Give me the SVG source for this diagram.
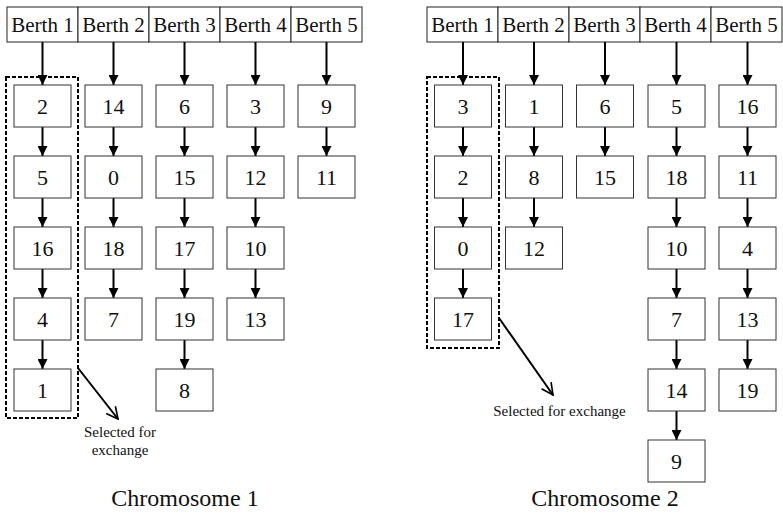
<svg xmlns="http://www.w3.org/2000/svg" width="783" height="515" viewBox="0 0 783 515">
  <style>
    .hdr { fill: #fff; stroke: #222; stroke-width: 1; }
    .box { fill: #fff; stroke: #333; stroke-width: 1; }
    .sel { fill: none; stroke: #000; stroke-width: 2; stroke-dasharray: 4 2; }
    .lnk { stroke: #000; stroke-width: 2; fill: none; }
    .ptr { stroke: #000; stroke-width: 2; fill: none; }
    text { font-family: "Liberation Serif", "Times New Roman", serif; fill: #111; text-anchor: middle; }
    .ht { font-size: 21px; }
    .nt { font-size: 22px; }
    .lt { font-size: 15px; }
    .tt { font-size: 24px; }
  </style>
  <defs>
    <marker id="tri" viewBox="0 0 10 10" refX="10" refY="5" markerWidth="5" markerHeight="5" orient="auto" markerUnits="strokeWidth">
      <path d="M0,0 L10,5 L0,10 Z" fill="#000"/>
    </marker>
    <marker id="vee" viewBox="0 0 12 12" refX="11" refY="6" markerWidth="7" markerHeight="7" orient="auto" markerUnits="strokeWidth">
      <path d="M1,1 L11,6 L1,11" fill="none" stroke="#000" stroke-width="1.4"/>
    </marker>
  </defs>

  <!-- Chromosome 1 -->
  <g id="chromosome1">
    <g id="c1-headers">
      <rect class="hdr" x="7" y="7" width="71" height="35"/>
      <rect class="hdr" x="78" y="7" width="71" height="35"/>
      <rect class="hdr" x="149" y="7" width="71" height="35"/>
      <rect class="hdr" x="220" y="7" width="71" height="35"/>
      <rect class="hdr" x="291" y="7" width="71" height="35"/>
      <text class="ht" x="42.5" y="32">Berth 1</text>
      <text class="ht" x="113.5" y="32">Berth 2</text>
      <text class="ht" x="184.5" y="32">Berth 3</text>
      <text class="ht" x="255.5" y="32">Berth 4</text>
      <text class="ht" x="326.5" y="32">Berth 5</text>
    </g>

    <g id="c1-links">
      <!-- berth 1 -->
      <line class="lnk" x1="42.5" y1="42" x2="42.5" y2="85" marker-end="url(#tri)"/>
      <line class="lnk" x1="42.5" y1="127" x2="42.5" y2="156" marker-end="url(#tri)"/>
      <line class="lnk" x1="42.5" y1="198" x2="42.5" y2="227" marker-end="url(#tri)"/>
      <line class="lnk" x1="42.5" y1="269" x2="42.5" y2="298" marker-end="url(#tri)"/>
      <line class="lnk" x1="42.5" y1="340" x2="42.5" y2="369" marker-end="url(#tri)"/>
      <!-- berth 2 -->
      <line class="lnk" x1="113.5" y1="42" x2="113.5" y2="85" marker-end="url(#tri)"/>
      <line class="lnk" x1="113.5" y1="127" x2="113.5" y2="156" marker-end="url(#tri)"/>
      <line class="lnk" x1="113.5" y1="198" x2="113.5" y2="227" marker-end="url(#tri)"/>
      <line class="lnk" x1="113.5" y1="269" x2="113.5" y2="298" marker-end="url(#tri)"/>
      <!-- berth 3 -->
      <line class="lnk" x1="184.5" y1="42" x2="184.5" y2="85" marker-end="url(#tri)"/>
      <line class="lnk" x1="184.5" y1="127" x2="184.5" y2="156" marker-end="url(#tri)"/>
      <line class="lnk" x1="184.5" y1="198" x2="184.5" y2="227" marker-end="url(#tri)"/>
      <line class="lnk" x1="184.5" y1="269" x2="184.5" y2="298" marker-end="url(#tri)"/>
      <line class="lnk" x1="184.5" y1="340" x2="184.5" y2="369" marker-end="url(#tri)"/>
      <!-- berth 4 -->
      <line class="lnk" x1="255.5" y1="42" x2="255.5" y2="85" marker-end="url(#tri)"/>
      <line class="lnk" x1="255.5" y1="127" x2="255.5" y2="156" marker-end="url(#tri)"/>
      <line class="lnk" x1="255.5" y1="198" x2="255.5" y2="227" marker-end="url(#tri)"/>
      <line class="lnk" x1="255.5" y1="269" x2="255.5" y2="298" marker-end="url(#tri)"/>
      <!-- berth 5 -->
      <line class="lnk" x1="326.5" y1="42" x2="326.5" y2="85" marker-end="url(#tri)"/>
      <line class="lnk" x1="326.5" y1="127" x2="326.5" y2="156" marker-end="url(#tri)"/>
    </g>

    <g id="c1-b1">
      <rect class="box" x="14" y="85" width="57" height="42"/><text class="nt" x="42.5" y="113.5">2</text>
      <rect class="box" x="14" y="156" width="57" height="42"/><text class="nt" x="42.5" y="184.5">5</text>
      <rect class="box" x="14" y="227" width="57" height="42"/><text class="nt" x="42.5" y="255.5">16</text>
      <rect class="box" x="14" y="298" width="57" height="42"/><text class="nt" x="42.5" y="326.5">4</text>
      <rect class="box" x="14" y="369" width="57" height="42"/><text class="nt" x="42.5" y="397.5">1</text>
    </g>
    <g id="c1-b2">
      <rect class="box" x="85" y="85" width="57" height="42"/><text class="nt" x="113.5" y="113.5">14</text>
      <rect class="box" x="85" y="156" width="57" height="42"/><text class="nt" x="113.5" y="184.5">0</text>
      <rect class="box" x="85" y="227" width="57" height="42"/><text class="nt" x="113.5" y="255.5">18</text>
      <rect class="box" x="85" y="298" width="57" height="42"/><text class="nt" x="113.5" y="326.5">7</text>
    </g>
    <g id="c1-b3">
      <rect class="box" x="156" y="85" width="57" height="42"/><text class="nt" x="184.5" y="113.5">6</text>
      <rect class="box" x="156" y="156" width="57" height="42"/><text class="nt" x="184.5" y="184.5">15</text>
      <rect class="box" x="156" y="227" width="57" height="42"/><text class="nt" x="184.5" y="255.5">17</text>
      <rect class="box" x="156" y="298" width="57" height="42"/><text class="nt" x="184.5" y="326.5">19</text>
      <rect class="box" x="156" y="369" width="57" height="42"/><text class="nt" x="184.5" y="397.5">8</text>
    </g>
    <g id="c1-b4">
      <rect class="box" x="227" y="85" width="57" height="42"/><text class="nt" x="255.5" y="113.5">3</text>
      <rect class="box" x="227" y="156" width="57" height="42"/><text class="nt" x="255.5" y="184.5">12</text>
      <rect class="box" x="227" y="227" width="57" height="42"/><text class="nt" x="255.5" y="255.5">10</text>
      <rect class="box" x="227" y="298" width="57" height="42"/><text class="nt" x="255.5" y="326.5">13</text>
    </g>
    <g id="c1-b5">
      <rect class="box" x="298" y="85" width="57" height="42"/><text class="nt" x="326.5" y="113.5">9</text>
      <rect class="box" x="298" y="156" width="57" height="42"/><text class="nt" x="326.5" y="184.5">11</text>
    </g>

    <g id="c1-selection">
      <rect class="sel" x="6" y="77" width="72" height="341"/>
      <line class="ptr" x1="78" y1="368" x2="118" y2="419" marker-end="url(#vee)"/>
      <text class="lt" x="120" y="437">Selected for</text>
      <text class="lt" x="120" y="455">exchange</text>
    </g>

    <text class="tt" x="185" y="506">Chromosome 1</text>
  </g>

  <!-- Chromosome 2 -->
  <g id="chromosome2">
    <g id="c2-headers">
      <rect class="hdr" x="427" y="7" width="71" height="35"/>
      <rect class="hdr" x="498" y="7" width="71" height="35"/>
      <rect class="hdr" x="569" y="7" width="71" height="35"/>
      <rect class="hdr" x="640" y="7" width="71" height="35"/>
      <rect class="hdr" x="711" y="7" width="71" height="35"/>
      <text class="ht" x="462.5" y="32">Berth 1</text>
      <text class="ht" x="533.5" y="32">Berth 2</text>
      <text class="ht" x="604.5" y="32">Berth 3</text>
      <text class="ht" x="675.5" y="32">Berth 4</text>
      <text class="ht" x="746.5" y="32">Berth 5</text>
    </g>

    <g id="c2-links">
      <!-- berth 1 -->
      <line class="lnk" x1="463" y1="42" x2="463" y2="85" marker-end="url(#tri)"/>
      <line class="lnk" x1="463" y1="127" x2="463" y2="156" marker-end="url(#tri)"/>
      <line class="lnk" x1="463" y1="198" x2="463" y2="227" marker-end="url(#tri)"/>
      <line class="lnk" x1="463" y1="269" x2="463" y2="298" marker-end="url(#tri)"/>
      <!-- berth 2 -->
      <line class="lnk" x1="534" y1="42" x2="534" y2="85" marker-end="url(#tri)"/>
      <line class="lnk" x1="534" y1="127" x2="534" y2="156" marker-end="url(#tri)"/>
      <line class="lnk" x1="534" y1="198" x2="534" y2="227" marker-end="url(#tri)"/>
      <!-- berth 3 -->
      <line class="lnk" x1="605" y1="42" x2="605" y2="85" marker-end="url(#tri)"/>
      <line class="lnk" x1="605" y1="127" x2="605" y2="156" marker-end="url(#tri)"/>
      <!-- berth 4 -->
      <line class="lnk" x1="676.5" y1="42" x2="676.5" y2="85" marker-end="url(#tri)"/>
      <line class="lnk" x1="676.5" y1="127" x2="676.5" y2="156" marker-end="url(#tri)"/>
      <line class="lnk" x1="676.5" y1="198" x2="676.5" y2="227" marker-end="url(#tri)"/>
      <line class="lnk" x1="676.5" y1="269" x2="676.5" y2="298" marker-end="url(#tri)"/>
      <line class="lnk" x1="676.5" y1="340" x2="676.5" y2="369" marker-end="url(#tri)"/>
      <line class="lnk" x1="676.5" y1="411" x2="676.5" y2="440" marker-end="url(#tri)"/>
      <!-- berth 5 -->
      <line class="lnk" x1="747.5" y1="42" x2="747.5" y2="85" marker-end="url(#tri)"/>
      <line class="lnk" x1="747.5" y1="127" x2="747.5" y2="156" marker-end="url(#tri)"/>
      <line class="lnk" x1="747.5" y1="198" x2="747.5" y2="227" marker-end="url(#tri)"/>
      <line class="lnk" x1="747.5" y1="269" x2="747.5" y2="298" marker-end="url(#tri)"/>
      <line class="lnk" x1="747.5" y1="340" x2="747.5" y2="369" marker-end="url(#tri)"/>
    </g>

    <g id="c2-b1">
      <rect class="box" x="434.5" y="85" width="57" height="42"/><text class="nt" x="463" y="113.5">3</text>
      <rect class="box" x="434.5" y="156" width="57" height="42"/><text class="nt" x="463" y="184.5">2</text>
      <rect class="box" x="434.5" y="227" width="57" height="42"/><text class="nt" x="463" y="255.5">0</text>
      <rect class="box" x="434.5" y="298" width="57" height="42"/><text class="nt" x="463" y="326.5">17</text>
    </g>
    <g id="c2-b2">
      <rect class="box" x="505.5" y="85" width="57" height="42"/><text class="nt" x="534" y="113.5">1</text>
      <rect class="box" x="505.5" y="156" width="57" height="42"/><text class="nt" x="534" y="184.5">8</text>
      <rect class="box" x="505.5" y="227" width="57" height="42"/><text class="nt" x="534" y="255.5">12</text>
    </g>
    <g id="c2-b3">
      <rect class="box" x="576.5" y="85" width="57" height="42"/><text class="nt" x="605" y="113.5">6</text>
      <rect class="box" x="576.5" y="156" width="57" height="42"/><text class="nt" x="605" y="184.5">15</text>
    </g>
    <g id="c2-b4">
      <rect class="box" x="648" y="85" width="57" height="42"/><text class="nt" x="676.5" y="113.5">5</text>
      <rect class="box" x="648" y="156" width="57" height="42"/><text class="nt" x="676.5" y="184.5">18</text>
      <rect class="box" x="648" y="227" width="57" height="42"/><text class="nt" x="676.5" y="255.5">10</text>
      <rect class="box" x="648" y="298" width="57" height="42"/><text class="nt" x="676.5" y="326.5">7</text>
      <rect class="box" x="648" y="369" width="57" height="42"/><text class="nt" x="676.5" y="397.5">14</text>
      <rect class="box" x="648" y="440" width="57" height="42"/><text class="nt" x="676.5" y="468.5">9</text>
    </g>
    <g id="c2-b5">
      <rect class="box" x="719" y="85" width="57" height="42"/><text class="nt" x="747.5" y="113.5">16</text>
      <rect class="box" x="719" y="156" width="57" height="42"/><text class="nt" x="747.5" y="184.5">11</text>
      <rect class="box" x="719" y="227" width="57" height="42"/><text class="nt" x="747.5" y="255.5">4</text>
      <rect class="box" x="719" y="298" width="57" height="42"/><text class="nt" x="747.5" y="326.5">13</text>
      <rect class="box" x="719" y="369" width="57" height="42"/><text class="nt" x="747.5" y="397.5">19</text>
    </g>

    <g id="c2-selection">
      <rect class="sel" x="427" y="77" width="72" height="271"/>
      <line class="ptr" x1="499" y1="318" x2="553" y2="395" marker-end="url(#vee)"/>
      <text class="lt" x="559.5" y="416">Selected for exchange</text>
    </g>

    <text class="tt" x="605" y="506">Chromosome 2</text>
  </g>
</svg>
